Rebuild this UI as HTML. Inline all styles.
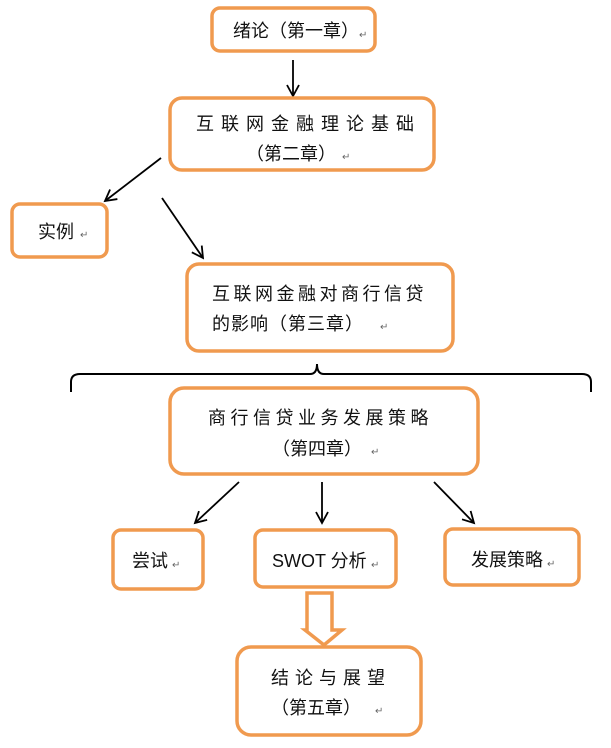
<!DOCTYPE html>
<html><head><meta charset="utf-8"><style>
body{margin:0;background:#fff}
svg{display:block}
text{font-family:"Liberation Sans","Noto Sans CJK SC",sans-serif;font-size:18px;fill:#111}
.b{fill:#fff;stroke:#f09a4f;stroke-width:3.5}
.a{stroke:#000;stroke-width:1.8;fill:none}
.r{font-size:10px;fill:#666}
</style></head><body>
<svg width="611" height="748" viewBox="0 0 611 748">
<defs><marker id="m" markerWidth="14" markerHeight="14" refX="12" refY="7" orient="auto" markerUnits="userSpaceOnUse"><path d="M1,1 L12,7 L1,13" fill="none" stroke="#000" stroke-width="1.8"/></marker></defs>
<rect class="b" x="212" y="8" width="163" height="43" rx="8"/>
<text x="233" y="37">绪论（第一章）</text><text class="r" x="359" y="38">↵</text>
<line class="a" x1="293" y1="60" x2="293" y2="96" marker-end="url(#m)"/>
<rect class="b" x="170" y="98" width="264" height="72" rx="12"/>
<text x="196" y="130" letter-spacing="7">互联网金融理论基础</text>
<text x="246" y="160">（第二章）</text><text class="r" x="342" y="160">↵</text>
<line class="a" x1="161" y1="158" x2="105" y2="201" marker-end="url(#m)"/>
<line class="a" x1="162" y1="198" x2="203" y2="258" marker-end="url(#m)"/>
<rect class="b" x="12" y="204" width="95" height="53" rx="8"/>
<text x="38" y="238">实例</text><text class="r" x="80" y="238">↵</text>
<rect class="b" x="187" y="264" width="266" height="87" rx="12"/>
<text x="212" y="300" letter-spacing="3.5">互联网金融对商行信贷</text>
<text x="212" y="330" letter-spacing="1">的影响（第三章）</text><text class="r" x="380" y="330">↵</text>
<path d="M71,392 L71,382 Q71,374 80,374 L310,374 Q317,374 317,364 Q317,374 324,374 L582,374 Q591,374 591,382 L591,392" fill="none" stroke="#000" stroke-width="2"/>
<rect class="b" x="170" y="388" width="308" height="86" rx="14"/>
<text x="208" y="424" letter-spacing="4.5">商行信贷业务发展策略</text>
<text x="272" y="455">（第四章）</text><text class="r" x="371" y="455">↵</text>
<line class="a" x1="239" y1="482" x2="195" y2="523" marker-end="url(#m)"/>
<line class="a" x1="322" y1="482" x2="322" y2="523" marker-end="url(#m)"/>
<line class="a" x1="434" y1="482" x2="474" y2="523" marker-end="url(#m)"/>
<rect class="b" x="113" y="530" width="90" height="59" rx="8"/>
<text x="132" y="567">尝试</text><text class="r" x="172" y="568">↵</text>
<rect class="b" x="255" y="530" width="141" height="57" rx="8"/>
<text x="272" y="567">SWOT 分析</text><text class="r" x="371" y="568">↵</text>
<rect class="b" x="445" y="529" width="134" height="56" rx="8"/>
<text x="471" y="566">发展策略</text><text class="r" x="547" y="567">↵</text>
<path d="M307,593 L332,593 L332,630 L342,630 L324,645 L305,630 L307,630 Z" fill="#fff" stroke="#f09a4f" stroke-width="3.5"/>
<rect class="b" x="237" y="647" width="184" height="88" rx="14"/>
<text x="271" y="684" letter-spacing="6">结论与展望</text>
<text x="271" y="714">（第五章）</text><text class="r" x="375" y="714">↵</text>
</svg>
</body></html>
